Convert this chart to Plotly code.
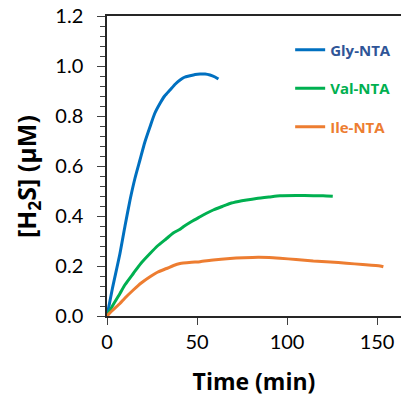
import plotly.graph_objects as go

gly_t = [0, 3, 7.2, 10, 12.8, 15.5, 18.3, 21, 23.9, 26.5, 29.4, 32, 35, 38, 40.6, 43, 46.1, 49, 51.7, 54.5, 57.2, 60, 61.9]
gly_v = [0, 0.11, 0.25, 0.36, 0.464, 0.55, 0.624, 0.695, 0.757, 0.81, 0.85, 0.88, 0.904, 0.928, 0.944, 0.955, 0.961, 0.966, 0.968, 0.968, 0.964, 0.956, 0.948]

val_t = [0, 3, 7.2, 10, 14.6, 19, 23.9, 28, 33.1, 37, 40.6, 42.4, 47, 51.7, 55, 59, 64, 68.3, 73, 77.6, 83, 90, 96.1, 105, 114.6, 120, 125.4]
val_v = [0, 0.04, 0.09, 0.125, 0.17, 0.212, 0.25, 0.28, 0.31, 0.333, 0.347, 0.357, 0.378, 0.397, 0.41, 0.424, 0.438, 0.45, 0.458, 0.464, 0.47, 0.476, 0.481, 0.482, 0.481, 0.481, 0.479]

ile_t = [0, 3, 7.2, 10, 14.6, 19, 23.9, 28, 33.1, 37, 40.6, 42.4, 47, 51.7, 59, 68.3, 76, 84, 90, 96.1, 105, 114.6, 124, 133, 142, 151.7, 153.5]
ile_v = [0, 0.022, 0.05, 0.072, 0.104, 0.132, 0.157, 0.175, 0.19, 0.202, 0.21, 0.212, 0.215, 0.217, 0.224, 0.23, 0.233, 0.235, 0.234, 0.231, 0.226, 0.22, 0.216, 0.211, 0.206, 0.2, 0.197]

series = [
    ("Gly-NTA", gly_t, gly_v, "#0070C0", "#2F5597"),
    ("Val-NTA", val_t, val_v, "#00B050", "#00B050"),
    ("Ile-NTA", ile_t, ile_v, "#ED7D31", "#ED7D31"),
]

x_ticks = [0, 50, 100, 150]
y_ticks = [0.0, 0.2, 0.4, 0.6, 0.8, 1.0, 1.2]
x_title = "Time (min)"
y_title = "[H<sub>2</sub>S] (μM)"

FONT = "Lato, 'Open Sans', sans-serif"
BOLD = "'Open Sans', Lato, sans-serif"

fig = go.Figure()
for name, t, v, lc, tc in series:
    fig.add_trace(go.Scatter(
        x=t, y=v, mode="lines", name=f"<b><span style='color:{tc}'>{name}</span></b>",
        legendgroup=name, line=dict(color=lc, width=3, shape="spline", smoothing=0.6),
    ))

fig.update_layout(
    width=401, height=397,
    margin=dict(l=107, r=0, t=16, b=81),
    plot_bgcolor="white", paper_bgcolor="white",
    font=dict(family=FONT, size=20, color="#000000"),
    showlegend=True,
    legend=dict(
        x=0.623, y=0.942, xanchor="left", yanchor="top",
        font=dict(family=BOLD, size=15, weight="bold"),
        tracegroupgap=16, bgcolor="rgba(0,0,0,0)", borderwidth=0,
    ),
    xaxis=dict(
        range=[0, 163.3], tickvals=x_ticks, ticktext=[str(x) for x in x_ticks],
        showgrid=False, zeroline=False, showline=True, linecolor="#262626", linewidth=1.5,
        mirror=True, ticks="outside", ticklen=7, tickwidth=1, tickcolor="#404040",
        ticklabelstandoff=0,
        title=dict(text=f"<b>{x_title}</b>", font=dict(family=BOLD, size=23), standoff=23),
    ),
    yaxis=dict(
        range=[0, 1.2], tickvals=y_ticks, ticktext=[f"{y:.1f}" for y in y_ticks],
        showgrid=False, zeroline=False, showline=True, linecolor="#262626", linewidth=1.5,
        ticks="outside", ticklen=8, tickwidth=1, tickcolor="#404040",
        minor=dict(dtick=0.04, ticks="outside", ticklen=5, tickwidth=1, tickcolor="#404040", showgrid=False),
        ticklabelstandoff=10,
    ),
    annotations=[dict(
        text=f"<b>{y_title}</b>", textangle=-90, xref="paper", yref="paper",
        x=-0.27, y=0.465, xanchor="center", yanchor="middle", showarrow=False,
        font=dict(family=BOLD, size=25, color="#000000"),
    )],
)

fig.write_html("out.html")
